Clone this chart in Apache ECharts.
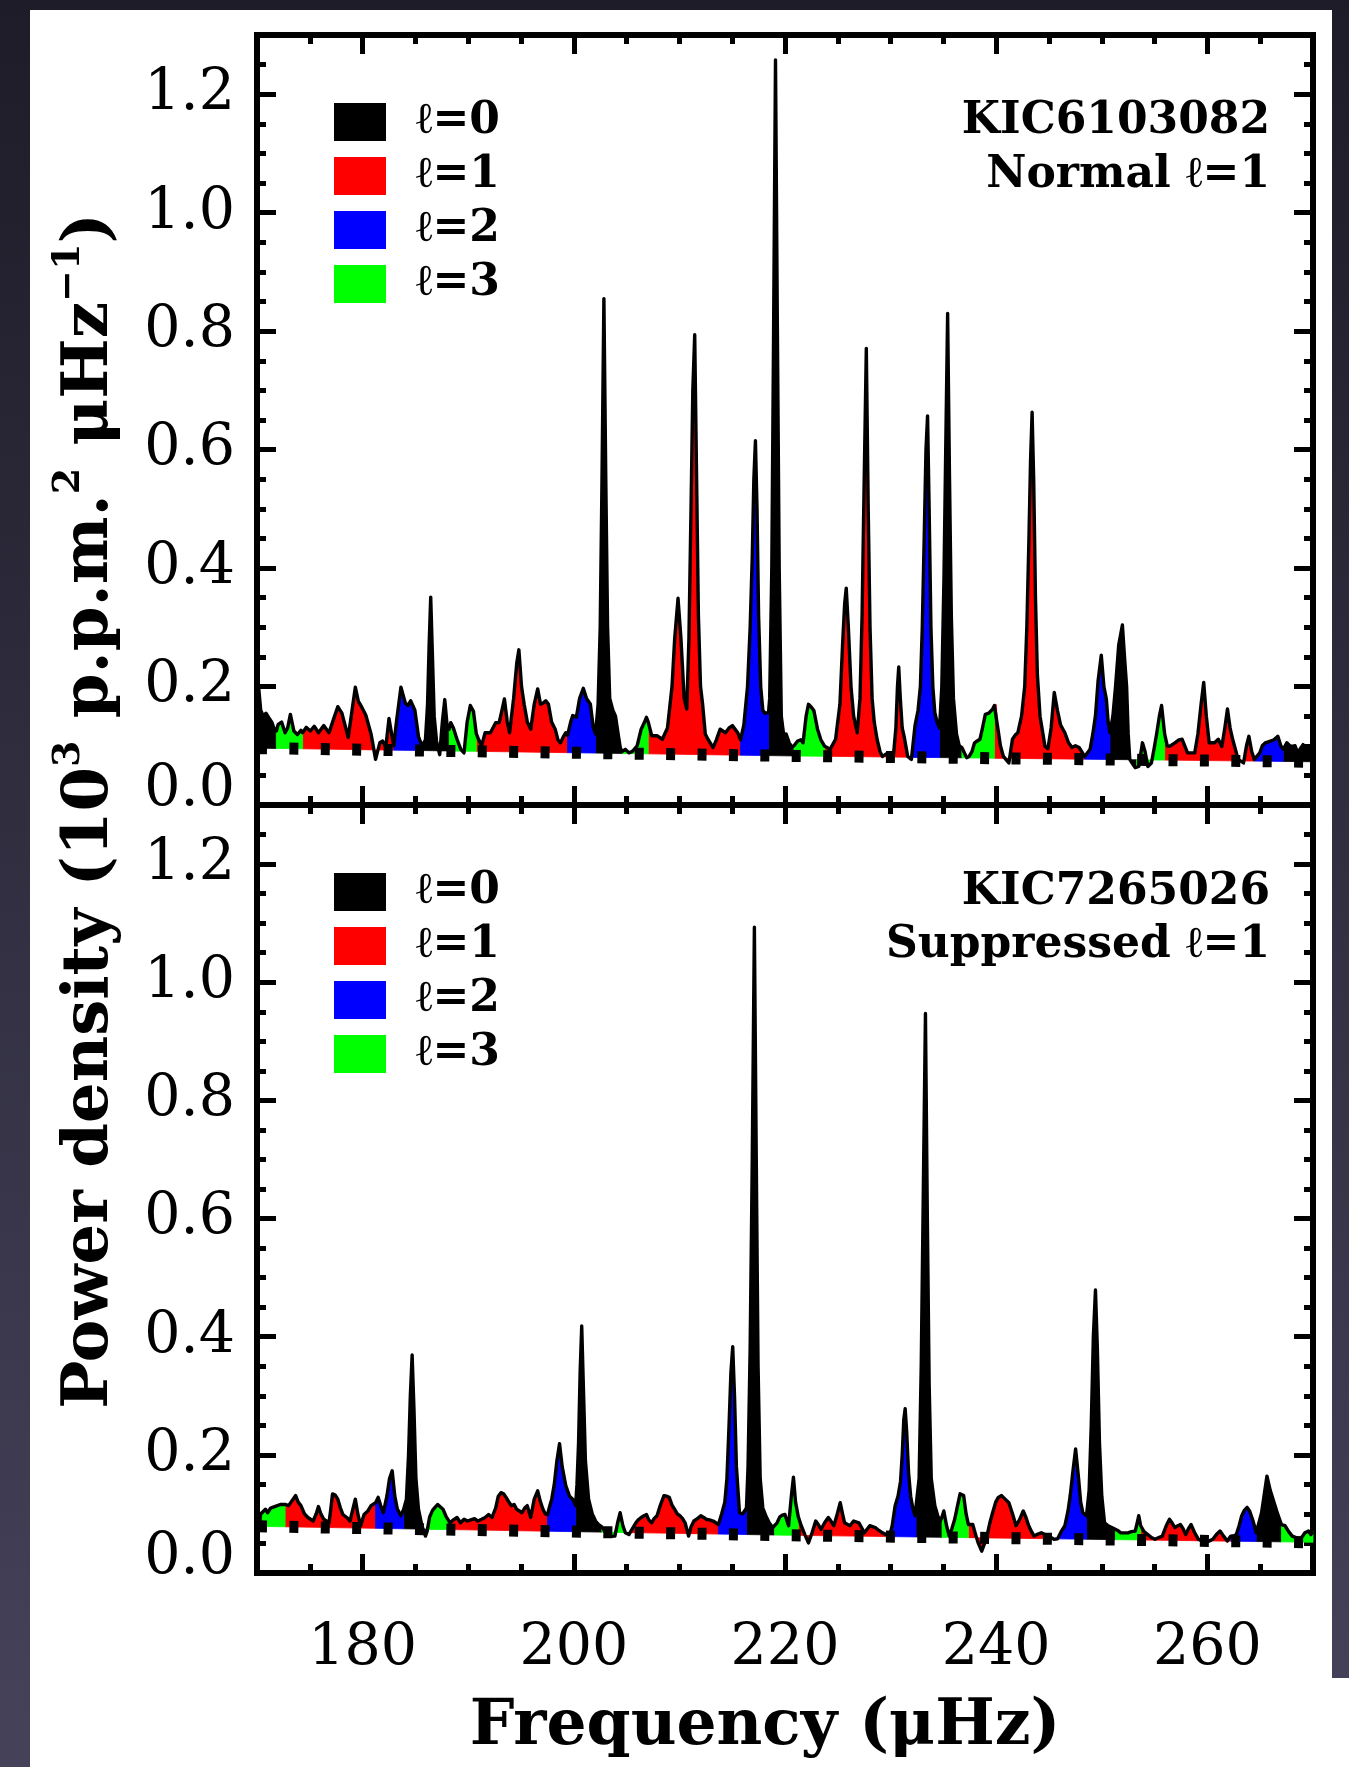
<!DOCTYPE html>
<html>
<head>
<meta charset="utf-8">
<script src="https://cdn.jsdelivr.net/npm/echarts@6/dist/echarts.min.js"></script>
<style>
  html, body { margin: 0; padding: 0; width: 1349px; height: 1767px; overflow: hidden;
    background: linear-gradient(#1e1c28, #45425a); }
  #sheet { position: absolute; left: 30px; top: 10px; width: 1302px; height: 1757px; background: #fff; }
  #tab { position: absolute; left: 1332px; top: 1678px; width: 17px; height: 89px; background: #fff; }
  #chart { position: absolute; left: 0; top: 0; width: 1349px; height: 1767px; }
</style>
</head>
<body>
<div id="sheet"></div>
<div id="tab"></div>
<div id="chart"></div>
<script>
// ---- axis ticks ----
const freqTicks = [180, 200, 220, 240, 260];
const freqMinor = [175, 185, 190, 195, 205, 210, 215, 225, 230, 235, 245, 250, 255, 265];
const powTicks = [0, 0.2, 0.4, 0.6, 0.8, 1.0, 1.2];
const powMinor = [0.05, 0.1, 0.15, 0.25, 0.3, 0.35, 0.45, 0.5, 0.55, 0.65, 0.7, 0.75,
                  0.85, 0.9, 0.95, 1.05, 1.1, 1.15, 1.25];

// ---- mode degrees ----
const degreeNames = ['ℓ=0', 'ℓ=1', 'ℓ=2', 'ℓ=3'];
const degreeColors = ['#000000', '#ff0000', '#0000ff', '#00ff00'];

// ---- KIC6103082: power density [frequency µHz, 10^3 ppm^2/µHz] ----
const specNormal = [
  [170.0,0.19],[170.15,0.20],[170.35,0.16],[170.6,0.15],[170.85,0.155],[171.1,0.148],[171.4,0.14],[171.6,0.13],[171.83,0.125],
  [172.0,0.136],[172.33,0.14],[172.66,0.122],[172.9,0.13],[173.16,0.153],[173.49,0.125],[173.83,0.119],[174.16,0.126],[174.32,0.122],
  [174.66,0.131],[175.05,0.125],[175.42,0.133],[175.82,0.122],[176.32,0.134],[176.82,0.122],[177.25,0.145],[177.65,0.166],[178.04,0.155],
  [178.64,0.114],[179.0,0.16],[179.31,0.199],[179.6,0.175],[179.9,0.166],[180.3,0.152],[180.8,0.12],[181.23,0.077],[181.63,0.105],
  [181.9,0.108],[182.2,0.098],[182.5,0.146],[182.75,0.12],[182.95,0.1],
  [183.2,0.14],[183.63,0.199],[184.05,0.172],[184.3,0.168],[184.55,0.176],[184.95,0.16],[185.3,0.115],[185.62,0.1],
  [185.95,0.11],[186.15,0.17],[186.3,0.27],[186.45,0.351],[186.6,0.26],[186.78,0.15],[187.0,0.108],[187.3,0.085],[187.55,0.14],
  [187.78,0.178],[188.0,0.135],[188.2,0.128],
  [188.35,0.139],[188.6,0.13],[188.94,0.111],[189.3,0.094],[189.6,0.088],[189.9,0.14],[190.2,0.168],[190.5,0.158],[190.77,0.12],
  [191.0,0.11],[191.27,0.1],[191.6,0.122],[192.1,0.122],[192.6,0.139],[192.93,0.139],[193.2,0.16],[193.43,0.179],[193.7,0.14],
  [193.92,0.122],[194.3,0.18],[194.6,0.24],[194.8,0.262],[195.05,0.2],[195.3,0.17],[195.6,0.14],[195.92,0.128],[196.25,0.17],
  [196.58,0.196],[196.85,0.17],[197.08,0.172],[197.35,0.176],[197.6,0.17],[197.9,0.14],[198.24,0.128],[198.5,0.11],[198.74,0.105],
  [199.0,0.115],[199.24,0.122],[199.41,0.118],
  [199.7,0.14],[199.9,0.151],[200.24,0.148],[200.55,0.18],[200.9,0.197],[201.2,0.18],[201.57,0.17],[201.85,0.13],[202.06,0.12],
  [202.3,0.17],[202.5,0.3],[202.67,0.55],[202.85,0.855],[203.03,0.55],[203.2,0.3],[203.4,0.18],[203.7,0.16],[203.95,0.15],
  [204.2,0.12],[204.4,0.097],[204.56,0.09],
  [204.89,0.094],[205.22,0.088],[205.5,0.09],[205.72,0.094],[206.0,0.1],[206.38,0.128],[206.7,0.14],[206.88,0.148],[207.05,0.14],
  [207.38,0.117],[207.88,0.117],[208.38,0.111],[208.87,0.13],[209.3,0.2],[209.55,0.28],[209.87,0.349],[210.15,0.28],[210.45,0.18],
  [210.7,0.162],[210.9,0.28],[211.1,0.5],[211.27,0.7],[211.45,0.794],[211.63,0.55],[211.8,0.32],[212.0,0.2],[212.2,0.17],
  [212.45,0.12],[212.7,0.111],
  [213.19,0.097],[213.5,0.11],[213.86,0.128],[214.36,0.122],[214.7,0.13],[215.02,0.134],[215.52,0.122],[215.79,0.11],
  [216.1,0.135],[216.45,0.2],[216.7,0.3],[216.9,0.42],[217.05,0.55],[217.2,0.615],[217.35,0.5],[217.5,0.32],[217.7,0.2],
  [217.9,0.16],[218.1,0.155],[218.44,0.156],
  [218.55,0.18],[218.75,0.4],[218.92,0.8],[219.1,1.258],[219.28,0.8],[219.45,0.4],[219.65,0.15],[219.9,0.115],[220.1,0.12],
  [220.4,0.105],[220.65,0.098],[220.85,0.1],
  [221.2,0.108],[221.5,0.11],[221.71,0.105],[222.0,0.15],[222.22,0.17],[222.5,0.165],[222.74,0.159],[223.08,0.128],[223.4,0.11],[223.76,0.099],
  [224.27,0.094],[224.79,0.111],[225.2,0.17],[225.45,0.27],[225.65,0.34],[225.8,0.366],[226.0,0.3],[226.25,0.2],[226.5,0.15],
  [226.84,0.122],[227.1,0.18],[227.3,0.32],[227.5,0.55],[227.7,0.771],[227.88,0.5],[228.05,0.3],[228.25,0.18],[228.45,0.14],
  [228.72,0.111],[229.0,0.09],[229.23,0.082],[229.74,0.088],[230.26,0.082],[230.5,0.13],[230.65,0.2],[230.77,0.233],[230.92,0.18],
  [231.1,0.13],[231.28,0.116],[231.62,0.082],[231.97,0.077],
  [232.31,0.134],[232.6,0.16],[232.82,0.2],[233.0,0.3],[233.18,0.45],[233.35,0.6],[233.5,0.657],[233.65,0.5],[233.82,0.3],
  [234.0,0.2],[234.19,0.156],[234.4,0.14],[234.63,0.13],
  [234.85,0.2],[235.05,0.38],[235.22,0.6],[235.4,0.83],[235.58,0.55],[235.75,0.32],[235.95,0.18],[236.24,0.12],[236.5,0.1],[236.75,0.097],
  [236.92,0.094],[237.2,0.08],[237.44,0.082],[237.7,0.09],[237.95,0.105],[238.2,0.108],[238.46,0.111],[238.7,0.13],[238.97,0.153],
  [239.3,0.155],[239.66,0.162],[239.83,0.168],
  [240.0,0.17],[240.17,0.128],[240.4,0.1],[240.68,0.082],[241.2,0.071],[241.54,0.111],[241.8,0.118],[242.05,0.122],[242.4,0.15],
  [242.7,0.2],[242.9,0.3],[243.1,0.45],[243.25,0.58],[243.4,0.663],[243.55,0.55],[243.72,0.35],[243.9,0.22],[244.15,0.15],
  [244.62,0.099],[244.9,0.095],[245.2,0.13],
  [245.5,0.19],[245.8,0.16],[246.1,0.135],[246.5,0.122],[246.85,0.105],[247.18,0.097],[247.5,0.1],[247.86,0.097],[248.1,0.09],[248.38,0.082],
  [248.89,0.094],[249.15,0.12],[249.4,0.151],[249.65,0.21],[249.95,0.253],[250.2,0.2],[250.43,0.179],[250.6,0.14],[250.77,0.122],
  [251.05,0.15],[251.3,0.2],[251.6,0.27],[251.95,0.304],[252.15,0.25],[252.35,0.2],[252.5,0.12],[252.65,0.077],[252.9,0.07],
  [253.16,0.063],[253.3,0.064],
  [253.5,0.065],[253.85,0.105],[254.1,0.09],[254.36,0.065],[254.7,0.071],[255.0,0.1],[255.21,0.122],[255.45,0.15],[255.66,0.168],[255.95,0.12],
  [256.2,0.1],[256.41,0.099],[256.92,0.105],[257.3,0.11],[257.61,0.111],[258.12,0.088],[258.8,0.088],[259.1,0.12],[259.4,0.17],
  [259.65,0.207],[259.9,0.15],[260.17,0.105],[260.68,0.105],[261.03,0.111],[261.37,0.099],[261.65,0.13],[261.9,0.162],[262.15,0.13],
  [262.39,0.111],[262.91,0.077],[263.42,0.071],[263.7,0.1],[263.93,0.116],[264.2,0.09],[264.44,0.077],
  [264.96,0.088],[265.2,0.1],[265.47,0.105],[265.98,0.108],[266.3,0.11],[266.67,0.116],[266.95,0.1],[267.18,0.094],
  [267.52,0.105],[267.8,0.1],[268.03,0.099],[268.3,0.1],[268.55,0.088],[268.8,0.095],[269.06,0.102],[269.3,0.09],[269.57,0.097],
  [269.8,0.094],[270.0,0.1]
];
// background level of KIC6103082
const bgNormal = [[170, 0.096], [220, 0.083], [270, 0.073]];
// frequency ranges [from, to, degree] of KIC6103082
const modesNormal = [
  [170.0,171.83,0],[171.83,174.32,3],[174.32,182.95,1],[182.95,185.62,2],[185.62,188.2,0],[188.2,190.77,3],
  [190.77,199.41,1],[199.41,202.06,2],[202.06,204.56,0],[204.56,207.05,3],[207.05,215.79,1],[215.79,218.44,2],
  [218.44,220.85,0],[220.85,223.76,3],[223.76,231.97,1],[231.97,234.63,2],[234.63,236.75,0],[236.75,239.83,3],
  [239.83,248.38,1],[248.38,250.77,2],[250.77,253.3,0],[253.3,255.95,3],[255.95,264.44,1],[264.44,267.18,2],
  [267.18,270.0,0]
];

// ---- KIC7265026: power density [frequency µHz, 10^3 ppm^2/µHz] ----
const specSuppressed = [
  [170.0,0.105],[170.2,0.095],[170.35,0.1],[170.5,0.1],
  [170.8,0.108],[171.0,0.102],[171.3,0.11],[171.67,0.1125],[172.2,0.116],[172.66,0.116],
  [173.0,0.114],[173.3,0.122],[173.66,0.131],[173.9,0.12],[174.16,0.114],[174.5,0.1],[174.82,0.094],[175.32,0.088],[175.6,0.1],
  [175.82,0.1125],[176.05,0.1],[176.32,0.091],[176.82,0.085],[177.0,0.11],[177.15,0.134],[177.4,0.132],[177.65,0.125],[177.9,0.11],
  [178.14,0.099],[178.5,0.094],[178.81,0.088],[179.1,0.11],[179.31,0.125],[179.55,0.1],[179.81,0.08],[180.14,0.099],[180.5,0.105],
  [180.8,0.114],[181.23,0.119],
  [181.47,0.128],[181.7,0.115],[181.96,0.102],[182.3,0.13],[182.55,0.16],[182.8,0.173],[183.05,0.13],[183.29,0.108],[183.63,0.097],[183.89,0.108],
  [184.15,0.125],[184.35,0.2],[184.52,0.3],[184.69,0.369],[184.86,0.28],[185.05,0.16],[185.29,0.108],[185.62,0.08],[185.95,0.0625],[186.1,0.07],
  [186.35,0.095],[186.62,0.106],[186.9,0.112],[187.11,0.116],[187.35,0.112],[187.61,0.108],[187.9,0.096],[188.28,0.085],[188.4,0.086],
  [188.6,0.09],[188.94,0.094],[189.27,0.085],[189.61,0.091],[189.94,0.088],[190.25,0.09],[190.6,0.092],[190.9,0.088],[191.27,0.091],
  [191.6,0.094],[191.93,0.099],[192.26,0.094],[192.6,0.11],[192.85,0.13],[193.1,0.136],[193.35,0.134],[193.59,0.128],[193.85,0.12],
  [194.09,0.114],[194.35,0.116],[194.59,0.108],[194.85,0.105],[195.09,0.102],[195.35,0.11],[195.59,0.114],[195.92,0.094],[196.25,0.125],
  [196.58,0.139],[196.85,0.12],[197.08,0.108],[197.3,0.1],[197.51,0.099],
  [197.75,0.115],[197.91,0.125],[198.15,0.15],[198.4,0.19],[198.65,0.219],[198.9,0.18],[199.24,0.148],[199.6,0.13],[199.9,0.125],[200.17,0.114],
  [200.3,0.15],[200.45,0.22],[200.6,0.34],[200.75,0.418],[200.9,0.32],[201.1,0.19],[201.4,0.125],[201.75,0.1],[202.06,0.088],[202.35,0.082],[202.66,0.078],
  [202.95,0.07],[203.23,0.065],[203.55,0.062],[203.89,0.0625],[204.15,0.085],[204.39,0.102],[204.65,0.08],[204.89,0.068],[205.22,0.065],
  [205.55,0.075],[205.88,0.085],[206.1,0.09],[206.38,0.094],[206.65,0.097],[206.88,0.099],[207.1,0.09],[207.38,0.085],[207.6,0.092],
  [207.88,0.097],[208.2,0.115],[208.54,0.131],[208.8,0.13],[209.04,0.128],[209.3,0.115],[209.54,0.108],[209.8,0.1],[210.04,0.097],
  [210.3,0.092],[210.54,0.085],[210.87,0.0625],[211.1,0.078],[211.37,0.088],[211.7,0.092],[212.03,0.097],[212.3,0.094],[212.53,0.091],
  [212.85,0.09],[213.19,0.088],[213.45,0.085],[213.69,0.082],
  [214.0,0.1],[214.3,0.12],[214.5,0.16],[214.7,0.25],[214.88,0.34],[215.05,0.383],[215.22,0.3],[215.4,0.18],[215.69,0.102],[216.0,0.1],[216.18,0.102],[216.35,0.11],
  [216.5,0.18],[216.7,0.38],[216.9,0.7],[217.1,1.093],[217.28,0.7],[217.45,0.35],[217.65,0.16],[217.9,0.11],[218.18,0.097],[218.5,0.085],
  [218.84,0.077],[219.01,0.078],
  [219.25,0.085],[219.51,0.095],[219.75,0.098],[220.0,0.099],[220.34,0.08],[220.6,0.13],[220.8,0.162],[221.0,0.12],[221.26,0.095],
  [221.54,0.08],[221.88,0.065],[222.22,0.051],[222.56,0.068],[222.91,0.088],[223.15,0.082],[223.42,0.074],[223.75,0.085],[224.1,0.094],
  [224.35,0.088],[224.62,0.08],[224.95,0.1],[225.23,0.119],[225.45,0.1],[225.64,0.085],[226.15,0.08],[226.5,0.088],[227.0,0.085],
  [227.52,0.068],[228.03,0.08],[228.55,0.077],[228.9,0.072],[229.23,0.068],[229.6,0.065],[229.9,0.0625],
  [230.15,0.08],[230.43,0.114],[230.7,0.13],[230.94,0.155],[231.1,0.2],[231.25,0.26],[231.38,0.278],[231.52,0.24],[231.7,0.17],
  [231.9,0.13],[232.1,0.11],[232.31,0.097],[232.41,0.1],
  [232.7,0.16],[232.9,0.35],[233.1,0.65],[233.3,0.947],[233.48,0.6],[233.65,0.32],[233.85,0.16],[234.19,0.114],[234.5,0.095],[234.7,0.088],[234.87,0.095],
  [235.04,0.105],[235.3,0.08],[235.56,0.0625],[235.8,0.075],[236.07,0.091],[236.35,0.115],[236.58,0.134],[236.92,0.131],[237.15,0.1],[237.37,0.082],
  [237.78,0.082],[238.05,0.065],[238.29,0.051],[238.63,0.037],[238.9,0.05],[239.15,0.065],[239.4,0.085],[239.66,0.102],[239.95,0.12],
  [240.2,0.128],[240.51,0.131],[240.85,0.125],[241.2,0.119],[241.55,0.1],[241.88,0.08],[242.2,0.09],[242.56,0.105],[242.8,0.095],
  [243.08,0.08],[243.35,0.07],[243.59,0.0625],[243.95,0.066],[244.27,0.068],[244.6,0.065],[244.96,0.0625],[245.2,0.06],[245.47,0.057],[245.81,0.058],
  [246.15,0.07],[246.5,0.08],[246.8,0.105],[247.01,0.131],[247.25,0.17],[247.52,0.21],[247.8,0.16],[248.0,0.12],[248.21,0.102],[248.55,0.097],
  [248.8,0.14],[249.0,0.25],[249.2,0.4],[249.4,0.479],[249.58,0.38],[249.78,0.22],[250.0,0.13],[250.26,0.085],[250.6,0.08],[250.94,0.077],[251.28,0.074],
  [251.5,0.072],[251.8,0.068],[252.15,0.068],[252.48,0.068],[252.8,0.07],[253.16,0.071],[253.35,0.085],[253.5,0.097],[253.68,0.08],
  [254.0,0.07],[254.36,0.065],[254.7,0.06],[255.04,0.057],[255.4,0.06],[255.73,0.0625],[256.1,0.08],[256.41,0.091],[256.65,0.085],
  [256.92,0.077],[257.2,0.08],[257.44,0.082],[257.7,0.075],[257.95,0.065],[258.2,0.075],[258.46,0.082],[258.8,0.068],[259.15,0.057],
  [259.5,0.054],[259.83,0.051],[260.15,0.054],[260.51,0.057],[260.85,0.065],[261.2,0.071],[261.55,0.062],[261.88,0.054],[262.22,0.0625],
  [262.5,0.063],[262.74,0.065],[263.0,0.08],[263.25,0.097],[263.5,0.106],[263.76,0.111],[264.0,0.105],[264.27,0.091],[264.45,0.08],[264.62,0.068],
  [264.88,0.085],[265.13,0.102],[265.4,0.135],[265.64,0.164],[265.95,0.14],[266.32,0.119],[266.65,0.1],[267.01,0.082],
  [267.35,0.08],[267.7,0.07],[268.03,0.0625],[268.4,0.06],[268.72,0.057],[269.0,0.062],[269.23,0.068],[269.57,0.071],[269.8,0.065],[270.0,0.07]
];
// background level of KIC7265026
const bgSuppressed = [[170, 0.079], [220, 0.064], [270, 0.052]];
// frequency ranges [from, to, degree] of KIC7265026
const modesSuppressed = [
  [170.0,170.5,0],[170.5,172.66,3],[172.66,181.23,1],[181.23,183.89,2],[183.89,186.1,0],[186.1,188.4,3],
  [188.4,197.51,1],[197.51,200.17,2],[200.17,202.66,0],[202.66,205.22,3],[205.22,213.69,1],[213.69,216.35,2],
  [216.35,219.01,0],[219.01,221.26,3],[221.26,229.9,1],[229.9,232.41,2],[232.41,234.87,0],[234.87,237.37,3],
  [237.37,245.81,1],[245.81,248.55,2],[248.55,251.28,0],[251.28,253.68,3],[253.68,262.22,1],[262.22,264.62,2],
  [264.62,267.01,0],[267.01,270.0,3]
];

// ---- helpers ----
const SERIF = '"DejaVu Serif", "Liberation Serif", serif';

// value of a polyline at frequency f (used to close the filled shapes)
function valueAt(pts, f) {
  for (let i = 1; i < pts.length; i++) {
    if (pts[i][0] >= f) {
      const a = pts[i - 1], b = pts[i];
      const t = (f - a[0]) / (b[0] - a[0]);
      return a[1] + t * (b[1] - a[1]);
    }
  }
  return pts[pts.length - 1][1];
}

// shape between the spectrum and the background over one frequency range
function fillRenderer(spec, bg) {
  return function (params, api) {
    const f0 = api.value(0), f1 = api.value(1);
    const pts = [api.coord([f0, valueAt(spec, f0)])];
    spec.forEach(p => { if (p[0] > f0 && p[0] < f1) pts.push(api.coord(p)); });
    pts.push(api.coord([f1, valueAt(spec, f1)]));
    pts.push(api.coord([f1, valueAt(bg, f1)]));
    for (let i = bg.length - 1; i >= 0; i--) {
      if (bg[i][0] > f0 && bg[i][0] < f1) pts.push(api.coord(bg[i]));
    }
    pts.push(api.coord([f0, valueAt(bg, f0)]));
    const c = api.visual('color');
    return { type: 'polygon', shape: { points: pts },
             style: { fill: c, stroke: c, lineWidth: 0.8 } };
  };
}

const panels = [
  { spec: specNormal, bg: bgNormal, modes: modesNormal, top: 35, height: 770, showX: false },
  { spec: specSuppressed, bg: bgSuppressed, modes: modesSuppressed, top: 805, height: 768, showX: true }
];

const grids = [], xAxes = [], yAxes = [], series = [];
const frameLine = { show: true, onZero: false, lineStyle: { color: '#000', width: 6, cap: 'square' } };
const noLine = { show: false, onZero: false };

panels.forEach((p, k) => {
  grids.push({ left: 257, top: p.top, width: 1056, height: p.height });
  const xBase = { gridIndex: k, type: 'value', min: 170, max: 270, splitLine: { show: false } };
  const yBase = { gridIndex: k, type: 'value', min: 0, max: 1.3, splitLine: { show: false } };
  const majorTick = (vals) => ({ show: true, inside: true, length: 19, customValues: vals,
                                 lineStyle: { color: '#000', width: 5 } });
  const minorTick = (vals) => ({ show: true, inside: true, length: 9, customValues: vals,
                                 lineStyle: { color: '#000', width: 5 } });
  // x axes: bottom major, bottom minor, top major, top minor
  xAxes.push(Object.assign({}, xBase, {
    position: 'bottom', axisLine: frameLine, axisTick: majorTick(freqTicks),
    axisLabel: { show: p.showX, customValues: freqTicks, margin: 48,
                 fontFamily: SERIF, fontSize: 57, color: '#000' },
    name: p.showX ? 'Frequency (μHz)' : '', nameLocation: 'middle', nameGap: 123,
    nameTextStyle: { fontFamily: SERIF, fontWeight: 'bold', fontSize: 63, lineHeight: 64,
                     color: '#000', padding: [0, 40, 0, 0] }
  }));
  xAxes.push(Object.assign({}, xBase, { position: 'bottom', axisLine: noLine,
    axisTick: minorTick(freqMinor), axisLabel: { show: false } }));
  xAxes.push(Object.assign({}, xBase, { position: 'top', axisLine: frameLine,
    axisTick: majorTick(freqTicks), axisLabel: { show: false } }));
  xAxes.push(Object.assign({}, xBase, { position: 'top', axisLine: noLine,
    axisTick: minorTick(freqMinor), axisLabel: { show: false } }));
  // y axes: left major, left minor, right major, right minor
  yAxes.push(Object.assign({}, yBase, {
    position: 'left', axisLine: frameLine, axisTick: majorTick(powTicks),
    axisLabel: { show: true, customValues: powTicks, margin: 22,
                 fontFamily: SERIF, fontSize: 57, color: '#000',
                 formatter: v => v === 0 ? '{lo|0.0}' : v.toFixed(1),
                 rich: { lo: { fontFamily: SERIF, fontSize: 57, color: '#000', padding: [0, 0, 30, 0] } } }
  }));
  yAxes.push(Object.assign({}, yBase, { position: 'left', axisLine: noLine,
    axisTick: minorTick(powMinor), axisLabel: { show: false } }));
  yAxes.push(Object.assign({}, yBase, { position: 'right', axisLine: frameLine,
    axisTick: majorTick(powTicks), axisLabel: { show: false } }));
  yAxes.push(Object.assign({}, yBase, { position: 'right', axisLine: noLine,
    axisTick: minorTick(powMinor), axisLabel: { show: false } }));

  const xi = k * 4, yi = k * 4;
  // coloured mode regions, one series per degree
  degreeNames.forEach((name, l) => {
    series.push({
      type: 'custom', name: name, coordinateSystem: 'cartesian2d',
      xAxisIndex: xi, yAxisIndex: yi, z: 2, silent: true,
      itemStyle: { color: degreeColors[l] },
      data: p.modes.filter(m => m[2] === l).map(m => [m[0], m[1]]),
      renderItem: fillRenderer(p.spec, p.bg)
    });
  });
  // spectrum outline
  series.push({
    type: 'line', xAxisIndex: xi, yAxisIndex: yi, z: 3, silent: true,
    data: p.spec, showSymbol: false, symbol: 'none',
    lineStyle: { color: '#000', width: 3.4, join: 'round' }
  });
  // background level (dotted)
  series.push({
    type: 'line', xAxisIndex: xi, yAxisIndex: yi, z: 4, silent: true,
    data: p.bg, showSymbol: false, symbol: 'none',
    lineStyle: { color: '#000', width: 12, type: [9, 22.4], dashOffset: -1, cap: 'butt' }
  });
});

// shared y-axis title spanning both panels
grids.push({ left: 257, top: 48, width: 1056, height: 1526 });
xAxes.push({ gridIndex: 2, type: 'value', show: false });
yAxes.push({
  gridIndex: 2, type: 'value', min: 0, max: 1, position: 'left',
  axisLine: { show: false }, axisTick: { show: false }, axisLabel: { show: false }, splitLine: { show: false },
  name: '{t|Power density (10}{s|3}{t| p.p.m.}{s|2}{t| μHz}{s|−1}{t|)}',
  nameLocation: 'middle', nameRotate: 90, nameGap: 127,
  nameTextStyle: {
    rich: {
      t: { fontFamily: SERIF, fontWeight: 'bold', fontSize: 64, lineHeight: 80, color: '#000' },
      s: { fontFamily: SERIF, fontWeight: 'bold', fontSize: 38, lineHeight: 38, verticalAlign: 'top', color: '#000' }
    }
  }
});

const legendBase = {
  orient: 'vertical', left: 329, itemWidth: 52, itemHeight: 38, itemGap: 10, icon: 'rect',
  selectedMode: false, data: degreeNames,
  textStyle: { fontFamily: SERIF, fontWeight: 'bold', fontSize: 44, lineHeight: 38, color: '#000',
               padding: [0, 0, 0, 25] }
};

function label(text, y) {
  return { type: 'text', x: 1270, y: y, z: 10,
    style: { text: text, fill: '#000', fontFamily: SERIF, fontWeight: 'bold', fontSize: 44,
             align: 'right', textAlign: 'right', verticalAlign: 'middle', textVerticalAlign: 'middle' } };
}

const chart = echarts.init(document.getElementById('chart'), null, { renderer: 'canvas', devicePixelRatio: 1 });
chart.setOption({
  animation: false,
  backgroundColor: 'transparent',
  grid: grids,
  xAxis: xAxes,
  yAxis: yAxes,
  legend: [Object.assign({}, legendBase, { top: 95 }), Object.assign({}, legendBase, { top: 865 })],
  graphic: [label('KIC6103082', 122), label('Normal ℓ=1', 176),
            label('KIC7265026', 893), label('Suppressed ℓ=1', 946)],
  series: series
});
</script>
</body>
</html>
